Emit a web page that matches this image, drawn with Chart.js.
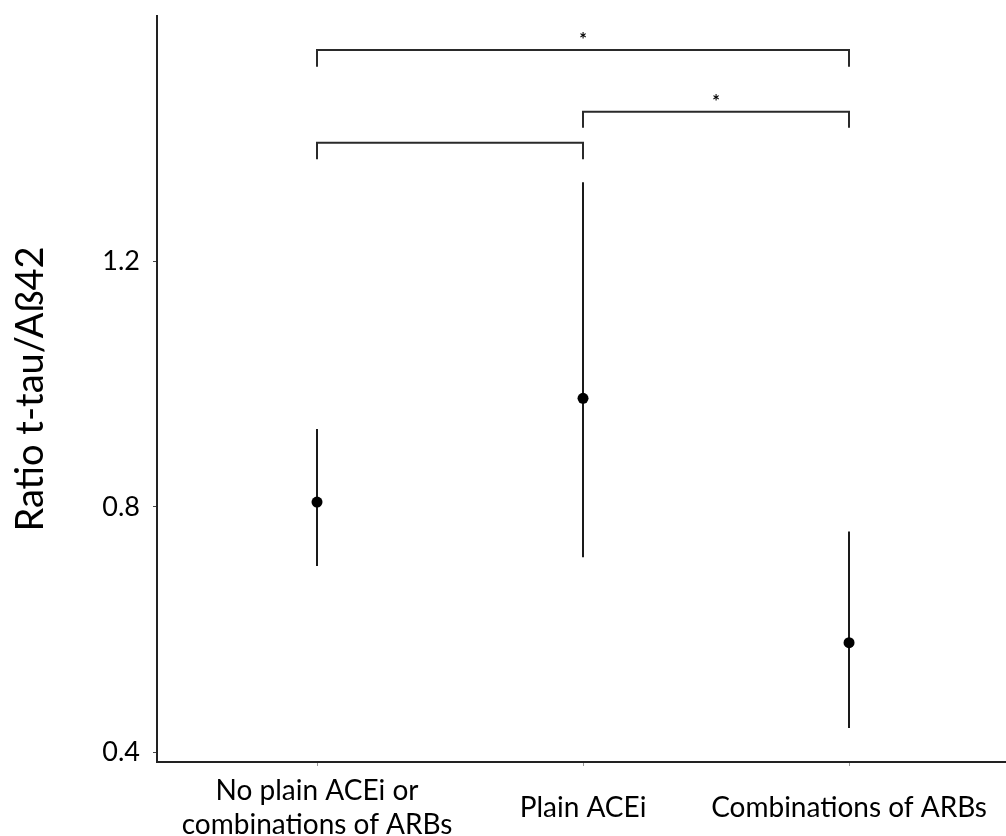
<!DOCTYPE html>
<html><head><meta charset="utf-8">
<script src="https://cdn.jsdelivr.net/npm/chart.js@4.4.1/dist/chart.umd.min.js"></script>
<style>html,body{margin:0;padding:0;background:#fff;overflow:hidden}#wrap{width:1006px;height:836px}</style>
</head><body><div id="wrap"><canvas id="c" width="1006" height="836"></canvas></div>
<script>
const categories = [["No plain ACEi or", "combinations of ARBs"], "Plain ACEi", "Combinations of ARBs"];
const means = [0.808, 0.977, 0.579];
const lower = [0.704, 0.718, 0.440];
const upper = [0.927, 1.329, 0.760];
const yTicks = [0.4, 0.8, 1.2];
const bracketFrom = [0, 1, 0];
const bracketTo = [2, 2, 1];
const bracketTop = [1.5446, 1.444, 1.3936];
const bracketLeg = [1.5174, 1.418, 1.3665];
const bracketLabel = ["*", "*", ""];
const yTitle = "Ratio t-tau/Aß42";

const FONT = "Lato, 'Open Sans', sans-serif";

const errorBars = {
  id: 'errorBars',
  beforeDatasetsDraw(chart) {
    const {ctx, scales: {x, y}, chartArea} = chart;
    ctx.save();
    // small x tick marks below the axis, one per category
    ctx.strokeStyle = '#999';
    ctx.lineWidth = 1;
    categories.forEach((c, i) => {
      const px = Math.round(x.getPixelForValue(i)) + 0.5;
      ctx.beginPath();
      ctx.moveTo(px, chartArea.bottom + 1);
      ctx.lineTo(px, chartArea.bottom + 4);
      ctx.stroke();
    });
    ctx.strokeStyle = '#1a1a1a';
    ctx.lineWidth = 2;
    for (let i = 0; i < means.length; i++) {
      const px = Math.round(x.getPixelForValue(i));
      ctx.beginPath();
      ctx.moveTo(px, y.getPixelForValue(lower[i]));
      ctx.lineTo(px, y.getPixelForValue(upper[i]));
      ctx.stroke();
    }
    ctx.restore();
  },
  afterDatasetsDraw(chart) {
    const {ctx, scales: {x, y}} = chart;
    ctx.save();
    ctx.strokeStyle = '#2a2a2a';
    ctx.lineWidth = 2;
    ctx.lineJoin = 'miter';
    for (let i = 0; i < bracketFrom.length; i++) {
      const x1 = Math.round(x.getPixelForValue(bracketFrom[i]));
      const x2 = Math.round(x.getPixelForValue(bracketTo[i]));
      const yt = y.getPixelForValue(bracketTop[i]);
      const yl = y.getPixelForValue(bracketLeg[i]);
      ctx.beginPath();
      ctx.moveTo(x1, yl);
      ctx.lineTo(x1, yt);
      ctx.lineTo(x2, yt);
      ctx.lineTo(x2, yl);
      ctx.stroke();
      if (bracketLabel[i]) {
        ctx.fillStyle = '#000';
        ctx.font = "bold 18px " + FONT;
        ctx.textAlign = 'center';
        ctx.textBaseline = 'alphabetic';
        ctx.fillText(bracketLabel[i], (x1 + x2) / 2, yt - 4);
      }
    }
    ctx.restore();
  }
};

new Chart(document.getElementById('c'), {
  type: 'scatter',
  data: {
    datasets: [{
      data: means.map((m, i) => ({x: i, y: m})),
      backgroundColor: '#000',
      borderWidth: 0,
      pointRadius: 5.5,
      showLine: false
    }]
  },
  options: {
    responsive: false,
    animation: false,
    layout: {autoPadding: false, padding: {top: 16, left: 0, right: 0, bottom: 0}},
    plugins: {legend: {display: false}, tooltip: {enabled: false}},
    scales: {
      x: {
        type: 'linear',
        min: -0.6015,
        max: 2.59,
        afterBuildTicks: s => { s.ticks = categories.map((c, i) => ({value: i})); },
        afterFit: s => { s.height = 74; s.paddingLeft = 0; s.paddingRight = 0; },
        ticks: {
          callback: v => categories[v],
          font: {family: FONT, size: 28},
          color: '#000',
          padding: 21,
          maxRotation: 0,
          autoSkip: false,
          crossAlign: 'center'
        },
        grid: {display: false},
        border: {display: true, color: '#222', width: 2}
      },
      y: {
        type: 'linear',
        min: 0.3845,
        max: 1.6,
        afterBuildTicks: s => { s.ticks = yTicks.map(v => ({value: v})); },
        afterFit: s => { s.width = 157; s.paddingTop = 0; s.paddingBottom = 0; },
        ticks: {
          callback: v => v.toFixed(1),
          font: {family: FONT, size: 27},
          color: '#000',
          padding: 13
        },
        grid: {display: true, drawOnChartArea: false, drawTicks: true, tickLength: 4, tickColor: '#444', tickWidth: 1},
        border: {display: true, color: '#222', width: 2},
        title: {
          display: true,
          text: yTitle,
          font: {family: FONT, size: 38},
          color: '#000',
          padding: {top: 8, bottom: 0}
        }
      }
    }
  },
  plugins: [errorBars]
});
</script>
</body></html>
